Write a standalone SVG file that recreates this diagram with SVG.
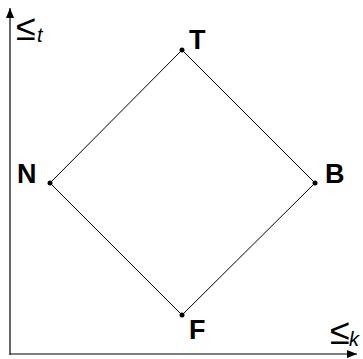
<svg xmlns="http://www.w3.org/2000/svg" width="363" height="359" viewBox="0 0 363 359">
<style>
.lbl{font-family:"Liberation Sans",Arial,sans-serif;font-weight:bold;font-size:27px;fill:#000}
.le{font-family:"Liberation Sans",Arial,sans-serif;font-size:36px;fill:#000}
.sub{font-family:"Liberation Sans",Arial,sans-serif;font-style:italic;font-size:20px;fill:#000}
.edge{stroke:#000;stroke-width:1;fill:none}
.axis{stroke:#000;stroke-width:1.2;fill:none}
</style>
<defs>
<marker id="ah" viewBox="0 0 10 8" refX="10" refY="4" markerWidth="10" markerHeight="8" markerUnits="userSpaceOnUse" orient="auto">
<path d="M0,0 L10,4 L0,8 Z" fill="#000"/>
</marker>
</defs>
<g id="axes">
<line class="axis" x1="10" y1="355" x2="10" y2="8" marker-end="url(#ah)"/>
<line class="axis" x1="10" y1="354" x2="357" y2="354" marker-end="url(#ah)"/>
<text class="le" x="16" y="40">≤</text><text class="sub" x="37" y="42">t</text>
<text class="le" x="330" y="344">≤</text><text class="sub" x="349" y="346">k</text>
</g>
<g id="connectors">
<line class="edge" x1="182" y1="50" x2="50" y2="183"/>
<line class="edge" x1="182" y1="50" x2="315" y2="183"/>
<line class="edge" x1="50" y1="183" x2="182" y2="315"/>
<line class="edge" x1="315" y1="183" x2="182" y2="315"/>
</g>
<g id="T"><circle cx="182" cy="50" r="2.5"/><text class="lbl" x="189" y="49">T</text></g>
<g id="N"><circle cx="50" cy="183" r="2.5"/><text class="lbl" x="17" y="183">N</text></g>
<g id="B"><circle cx="315" cy="183" r="2.5"/><text class="lbl" x="325" y="183">B</text></g>
<g id="F"><circle cx="182" cy="315" r="2.5"/><text class="lbl" x="189" y="339">F</text></g>
</svg>
